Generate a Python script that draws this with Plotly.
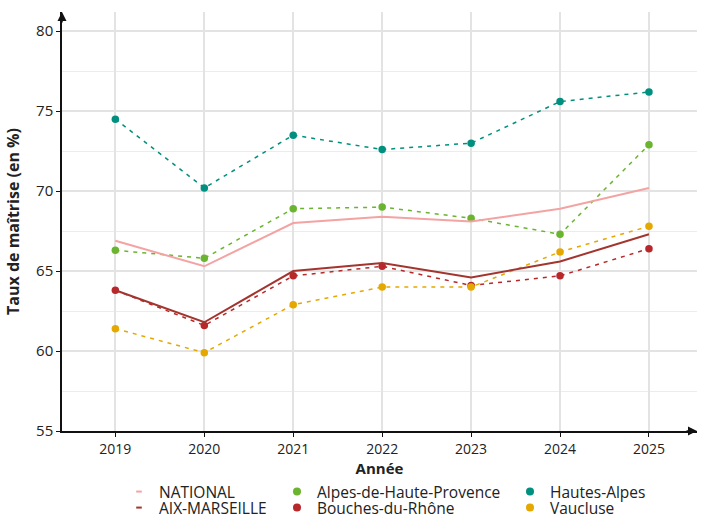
import plotly.graph_objects as go

years = [2019, 2020, 2021, 2022, 2023, 2024, 2025]
national = [66.9, 65.3, 68.0, 68.4, 68.1, 68.9, 70.2]
aix_marseille = [63.8, 61.8, 65.0, 65.5, 64.6, 65.6, 67.3]
alpes_hp = [66.3, 65.8, 68.9, 69.0, 68.3, 67.3, 72.9]
bouches = [63.8, 61.6, 64.7, 65.3, 64.1, 64.7, 66.4]
hautes_alpes = [74.5, 70.2, 73.5, 72.6, 73.0, 75.6, 76.2]
vaucluse = [61.4, 59.9, 62.9, 64.0, 64.0, 66.2, 67.8]

C_NAT = "#f4a3a3"
C_AIX = "#a3352e"
C_AHP = "#6ab42f"
C_BDR = "#b8282b"
C_HA = "#00907f"
C_VAU = "#e5a800"

FONT = "Open Sans"
fig = go.Figure()

# departments (dashed + points)
for name, vals, col in [("Alpes-de-Haute-Provence", alpes_hp, C_AHP),
                        ("Hautes-Alpes", hautes_alpes, C_HA),
                        ("Bouches-du-Rhône", bouches, C_BDR),
                        ("Vaucluse", vaucluse, C_VAU)]:
    fig.add_trace(go.Scatter(x=years, y=vals, mode="lines+markers", name=name,
                             line=dict(color=col, width=1.5, dash="4px,5px"),
                             marker=dict(color=col, size=7.5), showlegend=False))
# references (solid)
fig.add_trace(go.Scatter(x=years, y=national, mode="lines", name="NATIONAL",
                         line=dict(color=C_NAT, width=2), showlegend=False))
fig.add_trace(go.Scatter(x=years, y=aix_marseille, mode="lines", name="AIX-MARSEILLE",
                         line=dict(color=C_AIX, width=2), showlegend=False))

legfont = dict(family=FONT, size=15.5, color="#222222")
plot_l, plot_w, plot_t, plot_h = 62, 635, 12, 419
row_y = [492, 508]
col_x = [119, 277, 510]

def add_leg(idx, row, col):
    key = "legend" if idx == 1 else f"legend{idx}"
    fig.update_layout({key: dict(orientation="v", xanchor="left", yanchor="middle",
                                 x=(col_x[col] - plot_l) / plot_w,
                                 y=(plot_t + plot_h - row_y[row]) / plot_h,
                                 font=legfont, bgcolor="rgba(0,0,0,0)", itemwidth=30)})
    return key

def leg_line(name, col, legend):
    fig.add_trace(go.Scatter(x=[None], y=[None], mode="markers", name=name, legend=legend,
                             marker=dict(symbol="line-ew-open", size=4, color=col,
                                         line=dict(color=col, width=2))))

def leg_dot(name, col, legend):
    fig.add_trace(go.Scatter(x=[None], y=[None], mode="markers", name=name, legend=legend,
                             marker=dict(color=col, size=8)))

leg_line("NATIONAL", C_NAT, add_leg(1, 0, 0))
leg_line("AIX-MARSEILLE", C_AIX, add_leg(2, 1, 0))
leg_dot("Alpes-de-Haute-Provence", C_AHP, add_leg(3, 0, 1))
leg_dot("Bouches-du-Rhône", C_BDR, add_leg(4, 1, 1))
leg_dot("Hautes-Alpes", C_HA, add_leg(5, 0, 2))
leg_dot("Vaucluse", C_VAU, add_leg(6, 1, 2))

fig.update_layout(
    width=705, height=515,
    margin=dict(l=plot_l, r=705 - plot_l - plot_w, t=plot_t, b=515 - plot_t - plot_h, autoexpand=False),
    plot_bgcolor="white", paper_bgcolor="white",
    font=dict(family=FONT, size=15, color="#222222"),
    xaxis=dict(range=[2018.4, 2025.54], tickmode="array", tickvals=years,
               ticktext=[str(y) for y in years],
               showgrid=True, gridcolor="#e3e3e3", gridwidth=1.5,
               showline=True, linecolor="#111111", linewidth=1.5,
               ticks="outside", ticklen=4, tickcolor="#111111",
               tickfont=dict(family=FONT, size=14, color="#222222"),
               title=dict(text="<b>Année</b>", font=dict(family=FONT, size=15), standoff=6),
               zeroline=False, automargin=False),
    yaxis=dict(range=[55, 81.2], tickvals=[55, 60, 65, 70, 75, 80],
               showgrid=True, gridcolor="#e3e3e3", gridwidth=1.5,
               minor=dict(tickvals=[57.5, 62.5, 67.5, 72.5, 77.5], showgrid=True,
                          gridcolor="#ececec", gridwidth=1),
               showline=True, linecolor="#111111", linewidth=1.5,
               ticks="outside", ticklen=4, tickcolor="#111111",
               tickfont=dict(family=FONT, size=15, color="#222222"),
               title=dict(text="<b>Taux de maîtrise (en %)</b>", font=dict(family=FONT, size=16), standoff=12),
               zeroline=False, automargin=False),
)

# axis arrowheads
fig.add_annotation(x=0, y=1.0, xref="paper", yref="paper", ax=0, ay=12,
                   text="", showarrow=True, arrowhead=2, arrowsize=1.2, arrowwidth=1.5, arrowcolor="#111111")
fig.add_annotation(x=1.0, y=0, xref="paper", yref="paper", ax=-12, ay=0,
                   text="", showarrow=True, arrowhead=2, arrowsize=1.2, arrowwidth=1.5, arrowcolor="#111111")

fig.write_html("out.html", config={"displayModeBar": False},
               post_script="document.body.style.margin='0';")
